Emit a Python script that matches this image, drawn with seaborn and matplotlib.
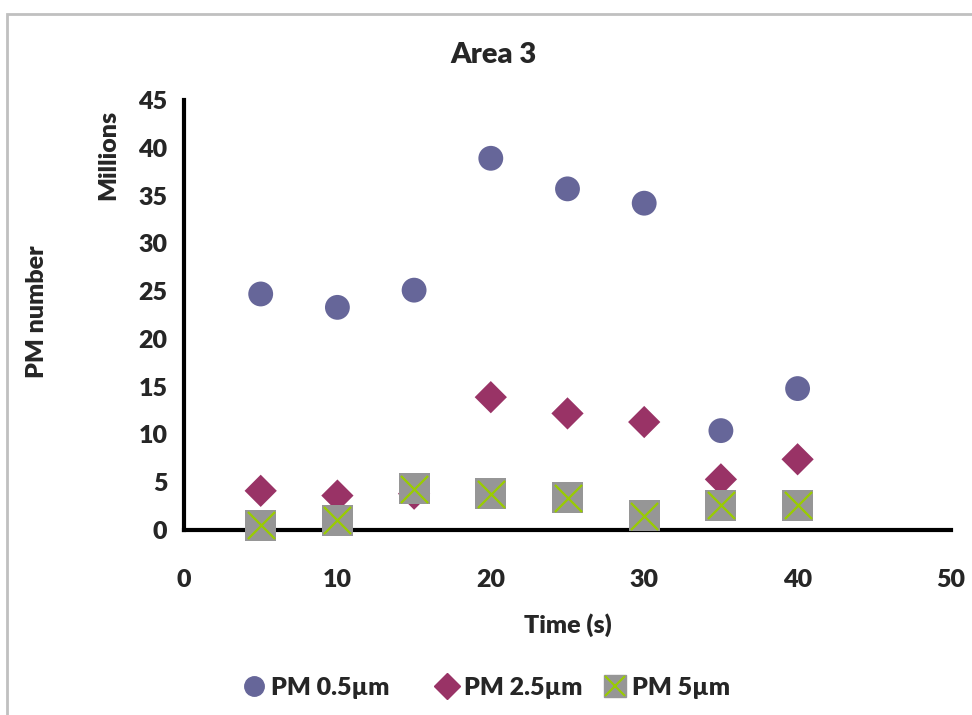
import numpy as np
import pandas as pd
import matplotlib
matplotlib.use("Agg")
import matplotlib.pyplot as plt
import seaborn as sns
from matplotlib.lines import Line2D
from matplotlib.legend_handler import HandlerTuple
from matplotlib.patches import Rectangle

time_s = [5, 10, 15, 20, 25, 30, 35, 40]
pm05 = [24.7, 23.3, 25.1, 38.9, 35.7, 34.2, 10.4, 14.8]
pm25 = [4.1, 3.6, 3.8, 13.9, 12.2, 11.3, 5.3, 7.4]
pm5 = [0.5, 1.0, 4.3, 3.8, 3.4, 1.5, 2.6, 2.6]
series_names = ["PM 0.5µm", "PM 2.5µm", "PM 5µm"]
x_ticks = [0, 10, 20, 30, 40, 50]
y_ticks = [0, 5, 10, 15, 20, 25, 30, 35, 40, 45]

sns.set_theme(style="white")
plt.rcParams['font.family'] = ['Lato', 'DejaVu Sans']
plt.rcParams['font.weight'] = 'bold'

c_circle = "#666699"
c_diamond = "#993366"
c_square = "#969696"
c_x = "#99CC00"

df = pd.DataFrame({"t": time_s, "a": pm05, "b": pm25, "c": pm5})

fig = plt.figure(figsize=(9.72, 7.15), dpi=100)
ax = fig.add_axes([184/972, 1-530/715, (951-184)/972, (530-100)/715])

sns.scatterplot(data=df, x="t", y="a", ax=ax, marker="o", s=320, color=c_circle,
                edgecolor="none", zorder=3, legend=False)
sns.scatterplot(data=df, x="t", y="b", ax=ax, marker="D", s=270, color=c_diamond,
                edgecolor="none", zorder=3, legend=False)
sns.scatterplot(data=df, x="t", y="c", ax=ax, marker="s", s=500, color=c_square,
                edgecolor="none", zorder=4, legend=False)
sns.scatterplot(data=df, x="t", y="c", ax=ax, marker="x", s=380, color=c_x,
                linewidth=1.6, zorder=5, legend=False)

ax.set_xlim(0, 50)
ax.set_ylim(0, 45)
ax.set_xticks(x_ticks)
ax.set_yticks(y_ticks)
ax.tick_params(axis="both", length=0, labelsize=18)
for lab in ax.get_xticklabels() + ax.get_yticklabels():
    lab.set_fontweight("heavy")
ax.xaxis.set_tick_params(pad=28)
ax.yaxis.set_tick_params(pad=12)
for sp in ["top", "right"]:
    ax.spines[sp].set_visible(False)
for sp in ["left", "bottom"]:
    ax.spines[sp].set_color("black")
    ax.spines[sp].set_linewidth(3)
    ax.spines[sp].set_zorder(2)
for coll in ax.collections:
    coll.set_clip_on(False)

ax.set_xlabel("Time (s)", fontsize=18, fontweight="heavy", labelpad=16)
ax.set_ylabel("")
fig.text(37/972, 1-312/715, "PM number", rotation=90, fontsize=18, fontweight="heavy",
         ha="center", va="center")
fig.text(108/972, 1-155/715, "Millions", rotation=90, fontsize=18, fontweight="heavy",
         ha="center", va="center")
fig.text(494/972, 1-55/715, "Area 3", fontsize=21, fontweight="heavy",
         ha="center", va="center")

h1 = Line2D([], [], marker="o", linestyle="none", markersize=14, color=c_circle)
h2 = Line2D([], [], marker="D", linestyle="none", markersize=13, color=c_diamond)
h3a = Line2D([], [], marker="s", linestyle="none", markersize=16, color=c_square)
h3b = Line2D([], [], marker="x", linestyle="none", markersize=14, color=c_x, markeredgewidth=1.5)
handles = [h1, h2, (h3a, h3b)]
left_px = [241, 434, 602]
for hnd, name, lx in zip(handles, series_names, left_px):
    leg = fig.legend([hnd], [name],
                     handler_map={tuple: HandlerTuple(ndivide=1, pad=0)},
                     loc="center left", bbox_to_anchor=(lx/972, 1-688/715),
                     frameon=False, borderpad=0, borderaxespad=0,
                     prop={"size": 18, "weight": "heavy"}, handlelength=1.0,
                     handletextpad=0.2)

fig.patches.append(Rectangle((7/972, -0.1), 1.2, 1 - 14/715 + 0.1, transform=fig.transFigure,
                             fill=False, edgecolor="#C0C0C0", linewidth=2))

fig.savefig("out.png", dpi=100)
